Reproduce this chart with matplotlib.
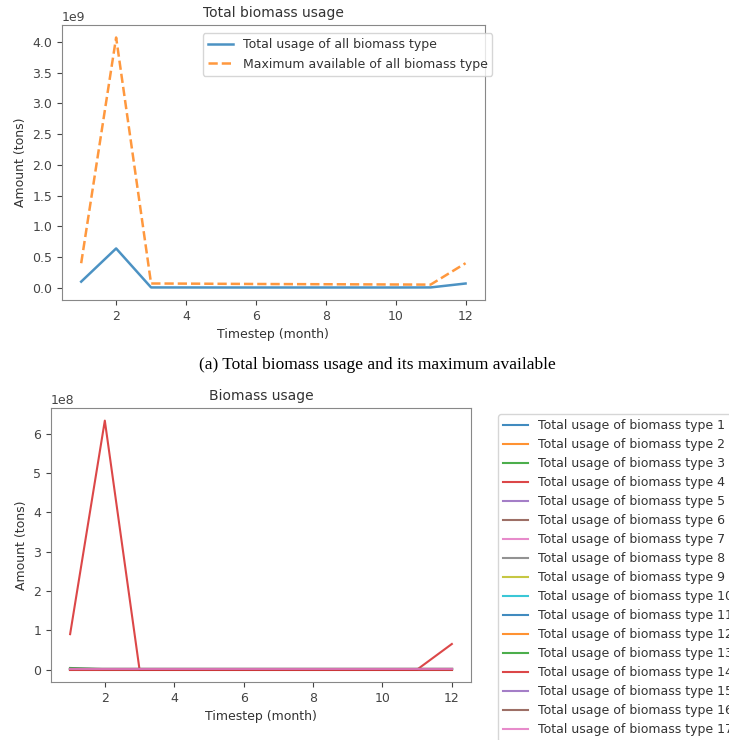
import numpy as np
import matplotlib
matplotlib.use("Agg")
import matplotlib.pyplot as plt

months = list(range(1, 13))

# total usage / max available (tons)
total_usage = [1.0e8, 6.4e8, 6.0e6, 5.5e6, 5.0e6, 5.0e6, 5.0e6, 5.0e6, 5.0e6, 5.0e6, 6.0e6, 7.0e7]
max_available = [4.0e8, 4.07e9, 7.0e7, 6.8e7, 6.5e7, 6.2e7, 6.0e7, 5.8e7, 5.6e7, 5.4e7, 5.2e7, 4.0e8]

# usage per biomass type (tons)
type_usage = [
    [2.0e6, 1.0e6, 1.0e6, 1.0e6, 1.0e6, 1.0e6, 1.0e6, 1.0e6, 1.0e6, 1.0e6, 1.0e6, 1.0e6],
    [1.0e6, 5.0e5, 5.0e5, 5.0e5, 5.0e5, 5.0e5, 5.0e5, 5.0e5, 5.0e5, 5.0e5, 5.0e5, 5.0e5],
    [4.0e6, 1.0e6, 1.0e6, 1.0e6, 1.0e6, 1.0e6, 1.0e6, 1.0e6, 1.0e6, 1.0e6, 1.0e6, 1.0e6],
    [9.0e7, 6.33e8, 0.0, 0.0, 0.0, 0.0, 0.0, 0.0, 0.0, 0.0, 0.0, 6.5e7],
    [5.0e5, 5.0e5, 5.0e5, 5.0e5, 5.0e5, 5.0e5, 5.0e5, 5.0e5, 5.0e5, 5.0e5, 5.0e5, 5.0e5],
    [3.0e5, 3.0e5, 3.0e5, 3.0e5, 3.0e5, 3.0e5, 3.0e5, 3.0e5, 3.0e5, 3.0e5, 3.0e5, 3.0e5],
    [2.0e5, 2.0e5, 2.0e5, 2.0e5, 2.0e5, 2.0e5, 2.0e5, 2.0e5, 2.0e5, 2.0e5, 2.0e5, 2.0e5],
    [1.0e5, 1.0e5, 1.0e5, 1.0e5, 1.0e5, 1.0e5, 1.0e5, 1.0e5, 1.0e5, 1.0e5, 1.0e5, 1.0e5],
    [1.0e5, 1.0e5, 1.0e5, 1.0e5, 1.0e5, 1.0e5, 1.0e5, 1.0e5, 1.0e5, 1.0e5, 1.0e5, 1.0e5],
    [1.0e5, 1.0e5, 1.0e5, 1.0e5, 1.0e5, 1.0e5, 1.0e5, 1.0e5, 1.0e5, 1.0e5, 1.0e5, 1.0e5],
    [2.0e5, 2.0e5, 2.0e5, 2.0e5, 2.0e5, 2.0e5, 2.0e5, 2.0e5, 2.0e5, 2.0e5, 2.0e5, 2.0e5],
    [1.0e5, 1.0e5, 1.0e5, 1.0e5, 1.0e5, 1.0e5, 1.0e5, 1.0e5, 1.0e5, 1.0e5, 1.0e5, 1.0e5],
    [1.0e5, 1.0e5, 1.0e5, 1.0e5, 1.0e5, 1.0e5, 1.0e5, 1.0e5, 1.0e5, 1.0e5, 1.0e5, 1.0e5],
    [0.0, 0.0, 0.0, 0.0, 0.0, 0.0, 0.0, 0.0, 0.0, 0.0, 0.0, 0.0],
    [1.0e5, 1.0e5, 1.0e5, 1.0e5, 1.0e5, 1.0e5, 1.0e5, 1.0e5, 1.0e5, 1.0e5, 1.0e5, 1.0e5],
    [1.0e5, 1.0e5, 1.0e5, 1.0e5, 1.0e5, 1.0e5, 1.0e5, 1.0e5, 1.0e5, 1.0e5, 1.0e5, 1.0e5],
    [1.0e5, 1.0e5, 1.0e5, 1.0e5, 1.0e5, 1.0e5, 1.0e5, 1.0e5, 1.0e5, 1.0e5, 1.0e5, 1.0e5],
]

# blurry screenshot look: greyish text
plt.rcParams['font.size'] = 9
plt.rcParams['text.color'] = '#333333'
plt.rcParams['axes.labelcolor'] = '#333333'
plt.rcParams['xtick.color'] = '#444444'
plt.rcParams['ytick.color'] = '#444444'

fig = plt.figure(figsize=(7.29, 7.40), dpi=100)

# top: total usage vs maximum available
ax1 = fig.add_axes([0.085, 0.5946, 0.580, 0.3716])
ax1.plot(months, total_usage, lw=1.8, alpha=0.8, label="Total usage of all biomass type")
ax1.plot(months, max_available, lw=1.8, ls="--", alpha=0.8, label="Maximum available of all biomass type")
ax1.set_title("Total biomass usage", fontsize=10)
ax1.set_xlabel("Timestep (month)")
ax1.set_ylabel("Amount (tons)")
for s in ax1.spines.values():
    s.set_color("#888888")
ax1.legend(loc="upper right", bbox_to_anchor=(0.684, 0.9635), bbox_transform=fig.transFigure)

fig.text(0.518, 0.507, "(a) Total biomass usage and its maximum available",
         ha="center", va="center", family="Liberation Serif", fontsize=12.5, color="black")

# bottom: usage per biomass type
ax2 = fig.add_axes([0.070, 0.0784, 0.576, 0.370])
for i, vals in enumerate(type_usage):
    ax2.plot(months, vals, lw=1.5, alpha=0.85, label="Total usage of biomass type %d" % (i + 1))
ax2.set_title("Biomass usage", fontsize=10)
ax2.set_xlabel("Timestep (month)")
ax2.set_ylabel("Amount (tons)")
for s in ax2.spines.values():
    s.set_color("#888888")
ax2.legend(loc="upper left", bbox_to_anchor=(0.675, 0.4485), bbox_transform=fig.transFigure,
           labelspacing=0.48)

fig.savefig("out.png", dpi=100)
